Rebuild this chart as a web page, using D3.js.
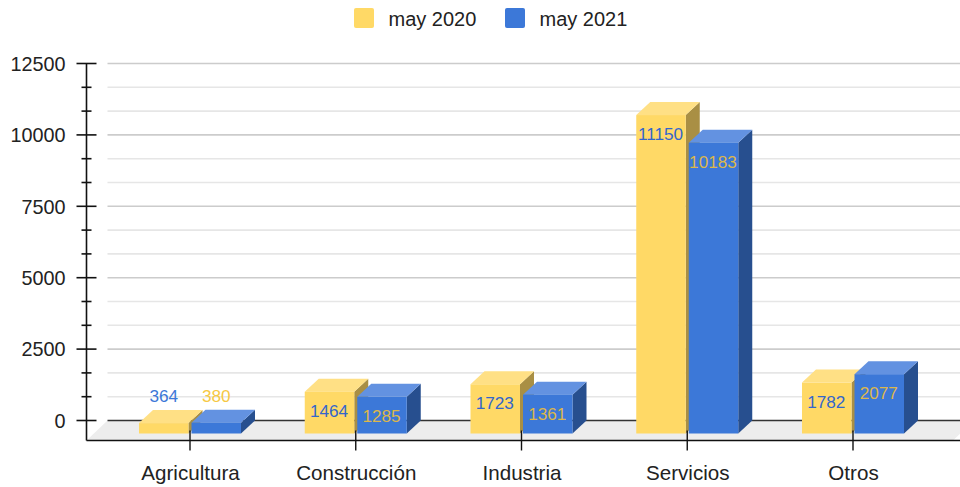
<!DOCTYPE html>
<html>
<head>
<meta charset="utf-8">
<script src="https://cdn.jsdelivr.net/npm/d3@7"></script>
<style>
  html, body { margin: 0; padding: 0; background: #fff; }
  svg { display: block; }
  text { font-family: "Liberation Sans", Arial, sans-serif; }
</style>
</head>
<body>
<div id="chart"></div>
<script>
// datos
const categories = ["Agricultura", "Construcción", "Industria", "Servicios", "Otros"];
const seriesNames = ["may 2020", "may 2021"];
const may2020 = [364, 1464, 1723, 11150, 1782];
const may2021 = [380, 1285, 1361, 10183, 2077];
const majorTicks = [0, 2500, 5000, 7500, 10000, 12500];
const seriesValues = [may2020, may2021];

const width = 960, height = 487;
const colors = [
  { front: "#ffd966", top: "#ffe085", side: "#a98f44", label: "#3366cc" },
  { front: "#3c78d8", top: "#6392e1", side: "#274f8f", label: "#dcb74c" }
];
const outsideColors = ["#3c78d8", "#f6c844"];

// profundidad del efecto 3D
const wall = { dx: 21, dy: -20 };
const bar = { dx: 14, dy: -13, floor: 13 };

const svg = d3.select("#chart").append("svg")
  .attr("width", width)
  .attr("height", height);

const y = d3.scaleLinear().domain([0, 12500]).range([420.5, 63.5]);
const x = d3.scalePoint().domain(categories).range([190, 853]);
const xInner = d3.scaleBand().domain(seriesNames).range([-51, 51]).paddingInner(3 / 52.5);

const axisY = y(0) - wall.dy;   // linea frontal del suelo
const left = 86.5, right = 953;

// suelo
svg.append("polygon")
  .attr("points", [[left, axisY], [left + wall.dx, y(0)], [right + wall.dx, y(0)], [right, axisY]].join(" "))
  .attr("fill", "#ededed");

// rejilla
const minorTicks = d3.range(0, 12500.01, 2500 / 3).filter(t => !majorTicks.some(m => Math.abs(m - t) < 1));
svg.append("g").selectAll("line")
  .data(minorTicks)
  .join("line")
  .attr("x1", left + wall.dx).attr("x2", right + wall.dx)
  .attr("y1", d => y(d)).attr("y2", d => y(d))
  .attr("stroke", "#e6e6e6").attr("stroke-width", 1.6);
svg.append("g").selectAll("line")
  .data(majorTicks)
  .join("line")
  .attr("x1", left + wall.dx).attr("x2", right + wall.dx)
  .attr("y1", d => y(d)).attr("y2", d => y(d))
  .attr("stroke", d => d === 0 ? "#333" : "#cccccc")
  .attr("stroke-width", d => d === 0 ? 1.4 : 1.6);

// eje Y
const gy = svg.append("g").attr("transform", `translate(${left},0)`);
gy.append("line").attr("y1", y(12500)).attr("y2", axisY).attr("stroke", "#111").attr("stroke-width", 1.6);
gy.append("g").call(d3.axisLeft(y).tickValues(majorTicks).tickFormat(d3.format("d")).tickSize(0))
  .call(g => g.select(".domain").remove())
  .call(g => g.selectAll("text")
    .attr("x", -21)
    .attr("y", 0.5)
    .attr("font-size", 19.8)
    .attr("font-family", null)
    .attr("fill", "#222"));
gy.selectAll(".major").data(majorTicks).join("line").attr("class", "major")
  .attr("x1", -10).attr("x2", 10)
  .attr("y1", d => y(d)).attr("y2", d => y(d))
  .attr("stroke", "#111").attr("stroke-width", 1.6);
gy.selectAll(".minor").data(minorTicks).join("line").attr("class", "minor")
  .attr("x1", -5).attr("x2", 5)
  .attr("y1", d => y(d)).attr("y2", d => y(d))
  .attr("stroke", "#111").attr("stroke-width", 1.6);

// barras
seriesNames.forEach((name, s) => {
  const g = svg.append("g");
  const c = colors[s];
  categories.forEach((cat, i) => {
    const v = seriesValues[s][i];
    const x0 = x(cat) + xInner(name);
    const x1 = x0 + xInner.bandwidth();
    const yBottom = y(0) + bar.floor;
    const yTop = yBottom - (y(0) - y(v));
    g.append("polygon")
      .attr("points", [[x1, yTop], [x1 + bar.dx, yTop + bar.dy], [x1 + bar.dx, yBottom + bar.dy], [x1, yBottom]].join(" "))
      .attr("fill", c.side);
    g.append("polygon")
      .attr("points", [[x0, yTop], [x0 + bar.dx, yTop + bar.dy], [x1 + bar.dx, yTop + bar.dy], [x1, yTop]].join(" "))
      .attr("fill", c.top);
    g.append("rect")
      .attr("x", x0).attr("y", yTop)
      .attr("width", x1 - x0).attr("height", yBottom - yTop)
      .attr("fill", c.front);
  });
});

// eje X
const gx = svg.append("g").attr("transform", `translate(0,${axisY})`);
gx.append("line").attr("x1", left).attr("x2", width).attr("stroke", "#111").attr("stroke-width", 1.6);
gx.call(d3.axisBottom(x).tickSize(0))
  .call(g => g.select(".domain").remove())
  .call(g => g.selectAll("text")
    .attr("y", 32.5).attr("dy", "0.35em")
    .attr("font-size", 20.6)
    .attr("font-family", null)
    .attr("fill", "#222"));
gx.selectAll(".cat-tick").data(categories).join("line").attr("class", "cat-tick")
  .attr("x1", d => x(d)).attr("x2", d => x(d))
  .attr("y1", -10).attr("y2", 10)
  .attr("stroke", "#111").attr("stroke-width", 1.4);

// etiquetas de datos
seriesNames.forEach((name, s) => {
  categories.forEach((cat, i) => {
    const v = seriesValues[s][i];
    const yTop = y(v) + bar.floor;
    const small = v < 500;
    svg.append("text")
      .attr("x", x(cat) + xInner(name) + xInner.bandwidth() / 2 - (small ? 0 : 0.5))
      .attr("y", small ? yTop - 27 : yTop + 19)
      .attr("dy", "0.35em")
      .attr("text-anchor", "middle")
      .attr("font-size", 17.2)
      .attr("fill", small ? outsideColors[s] : colors[s].label)
      .text(v);
  });
});

// leyenda
const legendX = d3.scaleOrdinal().domain(seriesNames).range([354, 505]);
const legend = svg.append("g").selectAll("g")
  .data(seriesNames)
  .join("g")
  .attr("transform", d => `translate(${legendX(d)},8)`);
legend.append("rect")
  .attr("width", 20).attr("height", 20).attr("rx", 2)
  .attr("fill", (d, i) => colors[i].front);
legend.append("text")
  .attr("x", 34.5).attr("y", 11).attr("dy", "0.35em")
  .attr("font-size", 20)
  .attr("fill", "#222")
  .text(d => d);
</script>
</body>
</html>
